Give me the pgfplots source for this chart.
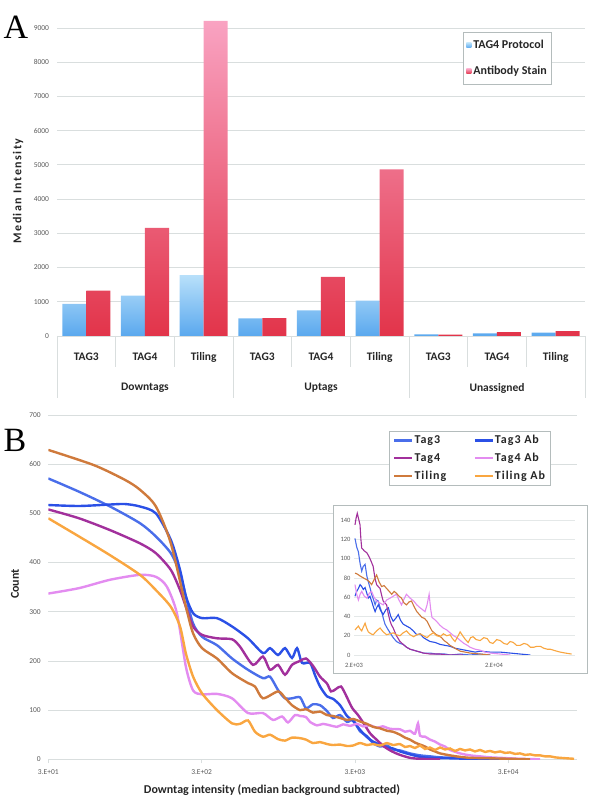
\documentclass[border=0pt]{standalone}
\usepackage{fontspec}
\setmainfont{Carlito}
\newfontfamily\serifA{Liberation Serif}
\newfontfamily\trackB[LetterSpace=8]{Carlito}
\newfontfamily\trackM[LetterSpace=12]{Carlito}
\usepackage{pgfplots}
\usepackage{pgfplotstable}
\pgfplotsset{compat=1.18}

\definecolor{gridc}{HTML}{D9DEDE}
\definecolor{framec}{HTML}{B4BCBC}
\definecolor{tickc}{HTML}{595959}
\definecolor{labc}{HTML}{262626}
\definecolor{blueTop}{HTML}{B8E0FA}
\definecolor{blueBot}{HTML}{5AA8EE}
\definecolor{redTop}{HTML}{F9A3C2}
\definecolor{redBot}{HTML}{E2344A}
\definecolor{cTagA}{HTML}{4A6EEA}
\definecolor{cTagB}{HTML}{2B50E6}
\definecolor{cFourA}{HTML}{A2309C}
\definecolor{cFourB}{HTML}{E38CF0}
\definecolor{cTilA}{HTML}{CF7A3C}
\definecolor{cTilB}{HTML}{F9A640}

% panel A: median intensity
\pgfplotstableread{
pos protocol antibody
0 935 1325
1 1180 3160
2 1775 9210
3 518 520
4 750 1725
5 1030 4870
6 50 40
7 80 115
8 100 145
}\bardata

% panel B: smoothed histograms
\pgfplotstableread{
x y
30 571
47.6 544
75.8 514
118.9 480
151 453
189 419
217 378
237 331
264 276
302 249
378 232
474 205
602 182
754 165
838 168
945 141
1050 124
1166 124
1316 126
1439 104
1599 112
1777 110
1973 98
2159 84
2399 90
2665 76
2916 80
3239 57
3598 47
3938 33
4375 26
4860 28
5318 20
5907 18
6864 12
7977 8
9270 6
10772 4
13490 3
16905 2
22824 1
35820 0
}\tthree

\pgfplotstableread{
x y
30 517
47.6 515
75.8 518
95 519
118.9 514
151 500
189 446
217 385
237 331
264 297
302 287
378 287
474 270
602 246
754 216
838 226
945 212
1050 226
1166 206
1258 226
1356 196
1529 196
1648 171
1777 148
1973 128
2159 123
2399 110
2665 88
2916 78
3239 60
3598 45
3938 36
4375 30
4860 24
5318 22
5907 16
6864 10
7977 5
9270 3
12519 2
16905 1
26527 0
}\tthreeab

\pgfplotstableread{
x y
30 508
47.6 490
75.8 466
118.9 439
151 419
189 385
217 344
237 310
264 270
302 253
378 246
474 244
534 229
649 192
754 209
838 182
945 192
1050 172
1166 192
1316 200
1439 205
1599 190
1777 168
1973 154
2096 138
2259 143
2435 148
2625 130
2872 105
3143 90
3440 72
3765 53
4183 39
4645 26
5238 16
5907 9
6864 3
7977 1
10772 0
}\tfour

\pgfplotstableread{
x y
30 337
47.6 348
75.8 365
118.9 375
151 371
178 351
207 297
237 188
264 140
302 132
378 133
474 124
602 94
754 94
877 80
1004 87
1098 75
1220 90
1316 88
1439 86
1529 76
1698 69
1858 72
2065 69
2292 66
2509 71
2788 68
3096 72
3387 67
3765 69
4183 64
4554 67
5083 62
5907 61
6369 56
6864 58
7398 52
7741 73
7977 48
8598 46
9270 40
9992 36
10772 30
11610 26
12519 19
14547 12
16905 8
19640 6
22824 4
26527 3
35820 1
48370 0
}\tfourab

\pgfplotstableread{
x y
30 629
59.6 598
95 568
118.9 548
151 514
189 439
237 310
264 256
302 226
378 205
474 175
602 155
669 148
754 124
945 138
1050 125
1166 110
1316 100
1439 102
1599 95
1777 97
1973 90
2159 88
2399 84
2665 80
2916 82
3239 77
3598 72
3938 66
4375 63
4860 58
5318 56
5907 50
6369 44
6864 40
7398 34
7977 30
8598 26
9270 20
9992 16
10772 12
12519 8
14547 5
16905 3
22824 2
30820 1
41630 0
}\tiling

\pgfplotstableread{
x y
30 490
47.6 453
75.8 415
118.9 375
151 344
189 310
217 270
237 215
264 168
302 134
378 100
474 73
534 72
602 79
669 56
754 46
838 50
945 41
1050 38
1166 44
1316 43
1439 40
1599 33
1777 35
1973 31
2159 29
2399 30
2665 27
2916 28
3239 33
3598 29
3938 31
4375 28
4860 33
5318 29
5907 31
6369 25
6864 27
7398 23
7977 28
8598 21
9270 24
9992 19
10772 24
11610 20
12519 22
13490 17
14547 21
15680 18
16905 20
18220 16
19640 19
21180 15
22824 17
24610 14
26527 16
28590 13
30820 14
33230 11
35820 12
38610 9
41630 10
44870 8
48370 8
52150 6
56220 6
60600 4
65330 3
72540 2
80600 1
}\tilingab

% inset: raw histograms above 2000
\pgfplotstableread{
x y
2033 121
2090 112
2150 107
2210 95
2270 87
2330 92
2400 94
2470 82
2530 76
2600 70
2670 63
2750 58
2830 52
2900 57
2980 56
3060 50
3150 45
3240 38
3330 32
3480 27
3620 23
3810 18
4020 14
4260 12
4490 11
4750 8
5030 6
5620 4
6270 2
6990 2
7770 1
8940 1
9720 0
11460 1
13510 0
15930 1
18790 0
}\ithree

\pgfplotstableread{
x y
2033 61
2090 66
2150 69
2210 73
2270 71
2330 68
2400 70
2470 64
2530 59
2600 61
2670 56
2750 50
2830 45
2900 49
2980 52
3100 46
3230 42
3380 47
3520 49
3660 40
3810 35
3970 38
4140 42
4300 36
4490 32
4750 30
5030 28
5300 25
5620 21
5930 22
6270 18
6600 16
6990 14
7600 13
8240 11
8940 10
9720 9
10540 7
11460 6
12440 5
13510 4
14670 3
15930 4
18790 3
22150 3
26120 2
30800 1
36310 0
}\ithreeab

\pgfplotstableread{
x y
2033 135
2070 142
2110 147
2160 141
2208 135
2240 120
2270 111
2370 108
2470 106
2540 103
2600 100
2670 96
2740 92
2820 80
2900 73
2980 71
3070 69
3150 62
3230 56
3320 54
3420 52
3520 42
3620 35
3710 31
3810 28
3910 24
4020 20
4140 17
4260 14
4490 11
4750 8
5030 6
5620 4
6270 2
6990 1
8240 1
9190 0
12000 0
}\ifour

\pgfplotstableread{
x y
2033 73
2090 63
2150 57
2210 63
2270 66
2370 61
2470 59
2570 64
2670 66
2780 60
2900 56
3060 54
3230 52
3420 57
3620 59
3810 61
4020 63
4190 57
4370 52
4550 58
4740 63
5030 59
5340 56
5620 52
5930 49
6180 47
6430 45
6650 52
6880 63
7050 48
7210 39
7500 37
7770 35
8200 31
8670 28
9190 26
9720 23
10300 20
10880 18
11500 15
12200 12
12900 10
13510 8
14670 6
15930 5
17300 3
18790 2
22150 1
26120 0
}\ifourab

\pgfplotstableread{
x y
2033 85
2110 84
2208 82
2330 80
2470 78
2570 76
2670 73
2780 78
2900 83
3020 76
3150 71
3280 72
3420 69
3570 66
3720 63
3870 66
4020 64
4190 61
4370 59
4550 54
4740 52
4940 55
5150 56
5380 50
5620 45
5860 42
6110 39
6370 38
6650 35
6920 30
7210 25
7480 23
7770 21
8100 20
8440 18
8800 15
9190 13
9700 10
10250 8
10800 6
11460 4
12440 3
13510 2
15930 1
18790 0
}\itiling

\pgfplotstableread{
x y
2033 26
2090 28
2150 30
2210 27
2270 25
2330 29
2400 33
2460 28
2530 24
2640 22
2740 21
2900 25
3070 28
3230 24
3420 21
3610 22
3810 23
4020 21
4260 20
4490 23
4740 25
5030 21
5340 19
5620 21
5930 22
6270 20
6650 18
7000 21
7380 23
7800 20
8240 19
8700 22
9200 20
9720 21
10100 17
10540 14
11000 19
11460 24
11940 20
12500 16
13080 13
13600 18
14190 19
14900 16
15930 15
16900 18
17880 17
18700 13
19660 12
20900 16
22150 15
23500 12
24880 11
26100 14
27460 13
29000 10
30800 10
32700 12
34590 11
36400 8
38420 8
40500 9
42800 9
45400 7
48080 6
50500 6
53100 5
56000 4
59500 3
64700 2
71600 1
}\itilingab

\begin{document}
\begin{tikzpicture}
\useasboundingbox (0pt,0pt) rectangle (600pt,801pt);

% ---------------- panel A ----------------
\begin{axis}[
  at={(57pt,465pt)}, anchor=south west,
  scale only axis, width=528pt, height=318.3pt,
  xmin=-0.5, xmax=8.5, ymin=0, ymax=9300,
  ytick={0,1000,...,9000}, xtick=\empty,
  ymajorgrids, grid style={gridc, line width=0.8pt},
  axis line style={draw=none},
  major tick length=0pt,
  scaled y ticks=false,
  /pgf/number format/set thousands separator={},
  /pgf/number format/assume math mode=true,
  yticklabel style={font=\fontsize{7.5}{8}\selectfont, text=tickc, xshift=-4.5pt},
  clip=false,
  legend style={at={(0.769,0.955)}, anchor=north west, draw=framec, line width=0.8pt,
    font=\bfseries\fontsize{12}{13}\selectfont, text=labc,
    inner xsep=3pt, inner ysep=6pt, row sep=12pt, cells={anchor=west}},
]
\addplot[ybar, bar width=24pt, bar shift=-12pt, draw=none, top color=blueTop, bottom color=blueBot,
  legend image code/.code={\path[top color=blueTop, bottom color=blueBot] (0pt,-2.5pt) rectangle (5pt,2.5pt);}]
  table[x=pos, y=protocol]{\bardata};
\addlegendentry{TAG4 Protocol}
\addplot[ybar, bar width=24pt, bar shift=12pt, draw=none, top color=redTop, bottom color=redBot,
  legend image code/.code={\path[top color=redTop, bottom color=redBot] (0pt,-2.5pt) rectangle (5pt,2.5pt);}]
  table[x=pos, y=antibody]{\bardata};
\addlegendentry{Antibody Stain}

\pgfplotsinvokeforeach{0.5,1.5,3.5,4.5,6.5,7.5}{
  \draw[gridc, line width=0.8pt] (axis cs:#1,0) -- (axis cs:#1,-906);
}
\pgfplotsinvokeforeach{-0.5,2.5,5.5,8.5}{
  \draw[gridc, line width=0.8pt] (axis cs:#1,0) -- (axis cs:#1,-1811);
}
\begin{scope}[every node/.style={font=\bfseries\fontsize{11.5}{12}\selectfont, text=labc}]
\node at (axis cs:0,-613) {TAG3};
\node at (axis cs:1,-613) {TAG4};
\node at (axis cs:2,-613) {Tiling};
\node at (axis cs:3,-613) {TAG3};
\node at (axis cs:4,-613) {TAG4};
\node at (axis cs:5,-613) {Tiling};
\node at (axis cs:6,-613) {TAG3};
\node at (axis cs:7,-613) {TAG4};
\node at (axis cs:8,-613) {Tiling};
\node at (axis cs:1,-1519) {Downtags};
\node at (axis cs:4,-1519) {Uptags};
\node at (axis cs:7,-1519) {Unassigned};
\end{scope}
\end{axis}

\node[font=\serifA\fontsize{34}{34}\selectfont] at (16pt,774pt) {A};
\node[rotate=90, font=\trackM\bfseries\fontsize{12}{13}\selectfont, text=labc] at (18pt,610pt) {Median Intensity};

% ---------------- panel B ----------------
\begin{axis}[
  at={(48.3pt,41.7pt)}, anchor=south west,
  scale only axis, width=528.7pt, height=344.3pt,
  xmode=log, xmin=30, xmax=84300, ymin=0, ymax=700,
  ytick={0,100,...,700},
  xtick={30,300,3000,30000}, xticklabels={3.E+01,3.E+02,3.E+03,3.E+04},
  xminorticks=false, yminorticks=false,
  ymajorgrids, grid style={gridc, line width=0.8pt},
  axis line style={draw=none},
  tick align=outside, major tick length=4pt,
  xtick pos=bottom,
  xtick style={draw=gridc, line width=0.8pt}, ytick style={draw=none},
  /pgf/number format/assume math mode=true,
  yticklabel style={font=\fontsize{7.5}{8}\selectfont, text=tickc},
  xticklabel style={font=\fontsize{7.5}{8}\selectfont, text=tickc, yshift=-3pt},
  legend columns=2,
  legend style={at={(0.644,0.9535)}, anchor=north west, draw=framec, line width=0.8pt,
    font=\trackB\bfseries\fontsize{12}{13}\selectfont, text=labc,
    inner xsep=4pt, inner ysep=3pt, row sep=6pt, cells={anchor=west},
    nodes={inner sep=1pt}},
  legend image code/.code={\draw[#1, line width=2.4pt] (0pt,0pt) -- (18pt,0pt);},
  every axis plot/.append style={smooth, tension=0.45, line width=2.4pt},
]
\addplot[color=cTagA] table{\tthree};
\addlegendentry{\makebox[58pt][l]{Tag3}}
\addplot[color=cTagB] table{\tthreeab};
\addlegendentry{Tag3 Ab}
\addplot[color=cFourA] table{\tfour};
\addlegendentry{\makebox[58pt][l]{Tag4}}
\addplot[color=cFourB] table{\tfourab};
\addlegendentry{Tag4 Ab}
\addplot[color=cTilA] table{\tiling};
\addlegendentry{\makebox[58pt][l]{Tiling}}
\addplot[color=cTilB] table{\tilingab};
\addlegendentry{Tiling Ab}
\end{axis}

\node[font=\serifA\fontsize{34}{34}\selectfont] at (15pt,361pt) {B};
\node[rotate=90, font=\bfseries\fontsize{12}{13}\selectfont, text=labc] at (15pt,217pt) {Count};
\node[font=\bfseries\fontsize{12}{13}\selectfont, text=labc] at (272pt,11pt) {Downtag intensity (median background subtracted)};

% ---------------- inset ----------------
\draw[framec, fill=white, line width=0.8pt] (333pt,128pt) rectangle (587pt,296pt);
\begin{axis}[
  at={(354pt,146pt)}, anchor=south west,
  scale only axis, width=221pt, height=144.6pt,
  xmode=log, xmin=2000, xmax=75800, ymin=0, ymax=150,
  ytick={0,20,...,140},
  xtick={2000,20000}, xticklabels={2.E+03,2.E+04},
  xminorticks=false, yminorticks=false,
  ymajorgrids, grid style={gridc!70, line width=0.6pt},
  axis line style={draw=none},
  major tick length=0pt,
  /pgf/number format/assume math mode=true,
  yticklabel style={font=\fontsize{6.5}{7}\selectfont, text=tickc},
  xticklabel style={font=\fontsize{6.5}{7}\selectfont, text=tickc, yshift=-5pt},
  every axis plot/.append style={line width=1.1pt},
]
\addplot[color=cTagA] table{\ithree};
\addplot[color=cTagB] table{\ithreeab};
\addplot[color=cFourA] table{\ifour};
\addplot[color=cFourB] table{\ifourab};
\addplot[color=cTilA] table{\itiling};
\addplot[color=cTilB] table{\itilingab};
\end{axis}
\end{tikzpicture}
\end{document}
